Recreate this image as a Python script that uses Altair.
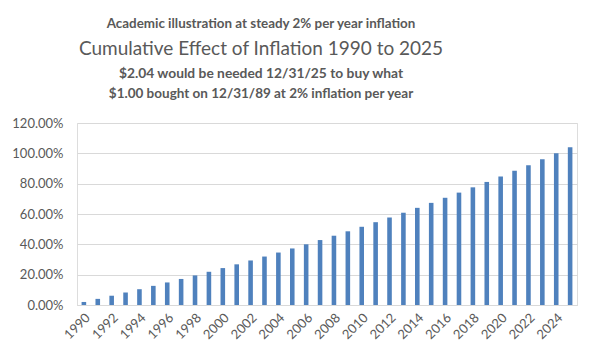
import altair as alt
import pandas as pd

years = list(range(1990, 2026))
cumulative = [
    0.0200, 0.0404, 0.0612, 0.0824, 0.1041, 0.1262, 0.1487, 0.1717, 0.1951,
    0.2190, 0.2434, 0.2682, 0.2936, 0.3195, 0.3459, 0.3728, 0.4002, 0.4282,
    0.4568, 0.4859, 0.5157, 0.5460, 0.5769, 0.6084, 0.6406, 0.6734, 0.7069,
    0.7410, 0.7758, 0.8114, 0.8476, 0.8845, 0.9222, 0.9607, 0.9999, 1.0399,
]
tick_years = years[::2]
y_ticks = [0, 0.2, 0.4, 0.6, 0.8, 1.0, 1.2]

title_lines = [
    "Academic illustration at steady 2% per year inflation",
    "Cumulative Effect of Inflation 1990 to 2025",
    "$2.04 would be needed 12/31/25 to buy what",
    "$1.00 bought on 12/31/89 at 2% inflation per year",
]

df = pd.DataFrame({"year": years, "value": cumulative})

FONT = "Lato"
GREY = "#595959"

bars = alt.Chart(df).mark_bar(color="#4f81bd").encode(
    x=alt.X(
        "year:O",
        title=None,
        scale=alt.Scale(paddingInner=0.67, paddingOuter=0.33),
        axis=alt.Axis(
            values=tick_years,
            labelAngle=-45,
            labelAlign="right",
            labelBaseline="top",
            labelFont=FONT,
            labelFontSize=13,
            labelColor=GREY,
            ticks=False,
            domainColor="#d9d9d9",
            labelPadding=6,
        ),
    ),
    y=alt.Y(
        "value:Q",
        title=None,
        scale=alt.Scale(domain=[0, 1.2], nice=False),
        axis=alt.Axis(
            values=y_ticks,
            format=".2%",
            labelFont=FONT,
            labelFontSize=13,
            labelColor=GREY,
            ticks=False,
            domain=False,
            gridColor="#d9d9d9",
            labelPadding=14,
        ),
    ),
)

specs = [
    (title_lines[0], -95, 13.4, "bold"),
    (title_lines[1], -68, 19, "normal"),
    (title_lines[2], -45.5, 13.8, "bold"),
    (title_lines[3], -25, 13.5, "bold"),
]
texts = []
for txt, yy, size, weight in specs:
    texts.append(
        alt.Chart(pd.DataFrame({"t": [txt]})).mark_text(
            font=FONT, fontSize=size, fontWeight=weight, color=GREY,
            baseline="alphabetic", align="center",
        ).encode(text="t:N", x=alt.value(184), y=alt.value(yy))
    )

chart = alt.layer(bars, *texts).properties(
    width=500,
    height=182,
    autosize=alt.AutoSizeParams(type="none"),
    padding={"left": 69, "top": 115, "right": 15, "bottom": 48},
).configure_view(stroke=None).configure(background="white")

chart.save("out.html", embed_options={"renderer": "svg", "actions": False})
